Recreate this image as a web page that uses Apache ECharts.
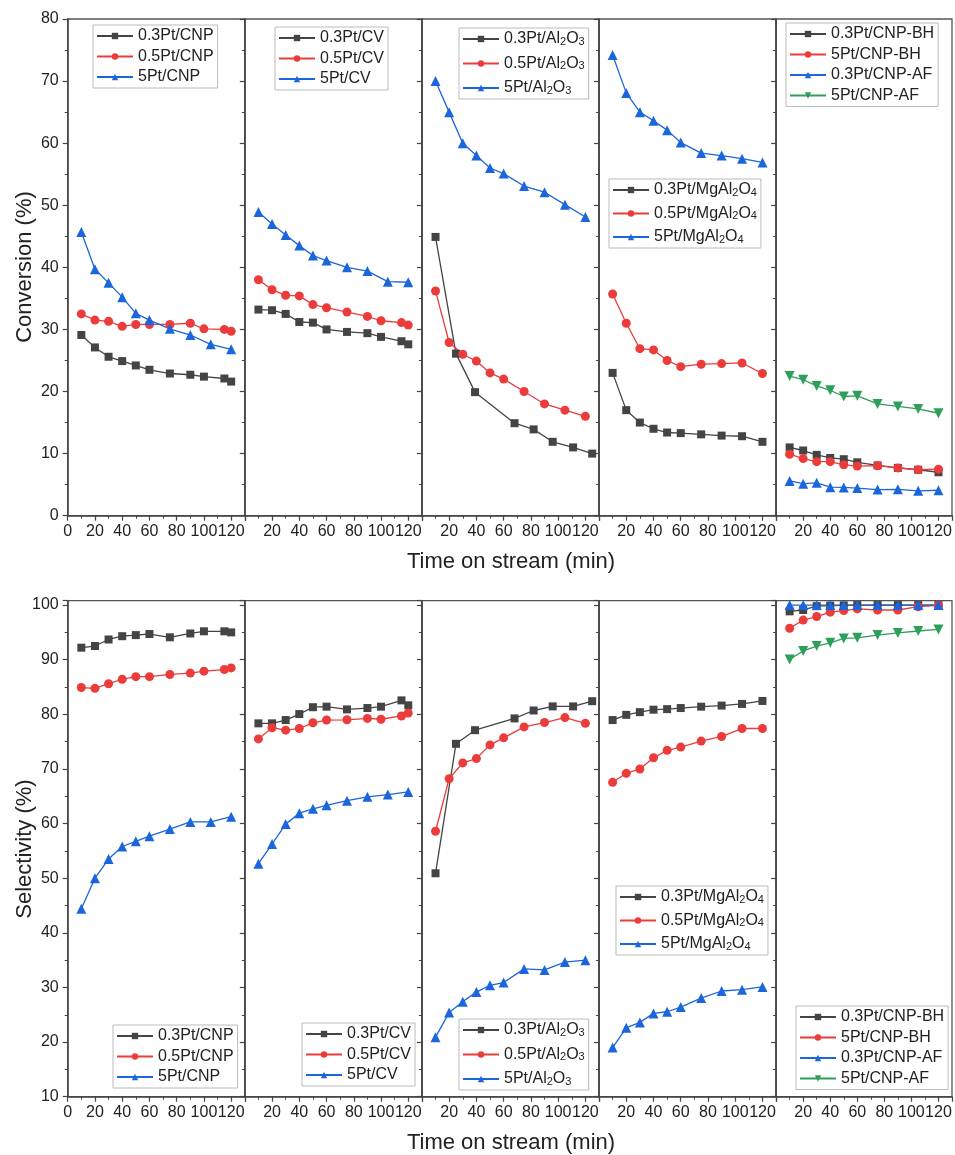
<!DOCTYPE html>
<html>
<head>
<meta charset="utf-8">
<script src="https://cdn.jsdelivr.net/npm/echarts@6/dist/echarts.min.js"></script>
<style>
  html, body { margin: 0; padding: 0; background: #fff; }
  #container { width: 955px; height: 1155px; }
</style>
</head>
<body>
<div id="container"></div>
<script>
// time on stream (min)
var tMain = [10, 20, 30, 40, 50, 60, 75, 90, 100, 115, 120];
var tStd = [10, 20, 30, 40, 50, 60, 75, 90, 105, 120];
var tAlBlack = [10, 25, 39, 68, 82, 96, 111, 125];

// conversion (%)
var convCNP03 = [29.1, 27.1, 25.6, 24.9, 24.2, 23.5, 22.9, 22.7, 22.4, 22.1, 21.6];
var convCNP05 = [32.5, 31.5, 31.3, 30.5, 30.8, 30.8, 30.8, 31.0, 30.1, 30.0, 29.7];
var convCNP5 = [45.7, 39.7, 37.5, 35.2, 32.6, 31.5, 30.1, 29.1, 27.6, 26.8];
var convCV03 = [33.2, 33.1, 32.5, 31.2, 31.1, 30.0, 29.6, 29.4, 28.8, 28.1, 27.6];
var convCV05 = [38.0, 36.4, 35.5, 35.4, 34.0, 33.5, 32.8, 32.1, 31.4, 31.1, 30.7];
var convCV5 = [48.9, 47.0, 45.2, 43.5, 41.9, 41.1, 40.0, 39.4, 37.7, 37.6];
var convAl03 = [44.9, 26.1, 19.9, 14.9, 13.9, 11.9, 11.0, 10.0];
var convAl05 = [36.2, 27.9, 26.0, 24.9, 23.0, 22.0, 20.0, 18.0, 17.0, 16.0];
var convAl5 = [70.0, 65.0, 60.0, 58.0, 56.0, 55.1, 53.1, 52.1, 50.1, 48.1];
var convMg03 = [23.0, 17.0, 15.0, 14.0, 13.4, 13.3, 13.1, 12.9, 12.8, 11.9];
var convMg05 = [35.7, 31.0, 26.9, 26.7, 25.0, 24.0, 24.4, 24.5, 24.6, 22.9];
var convMg5 = [74.2, 68.1, 65.0, 63.6, 62.1, 60.1, 58.4, 58.0, 57.5, 56.9];
var convBH03 = [11.0, 10.5, 9.8, 9.3, 9.1, 8.6, 8.1, 7.7, 7.4, 7.0];
var convBH5 = [9.9, 9.2, 8.7, 8.7, 8.2, 8.0, 8.05, 7.7, 7.4, 7.5];
var convAF03 = [5.6, 5.15, 5.3, 4.6, 4.55, 4.45, 4.2, 4.25, 4.0, 4.1];
var convAF5 = [22.5, 21.9, 20.9, 20.2, 19.2, 19.3, 18.0, 17.6, 17.2, 16.5];

// selectivity (%)
var selCNP03 = [92.2, 92.5, 93.7, 94.3, 94.5, 94.7, 94.1, 94.8, 95.2, 95.2, 95.0];
var selCNP05 = [84.9, 84.75, 85.6, 86.4, 86.9, 86.9, 87.3, 87.55, 87.9, 88.2, 88.5];
var selCNP5 = [44.4, 50.0, 53.5, 55.8, 56.75, 57.7, 59.0, 60.3, 60.3, 61.25];
var selCV03 = [78.35, 78.35, 78.95, 80.05, 81.3, 81.4, 80.9, 81.15, 81.4, 82.55, 81.65];
var selCV05 = [75.5, 77.55, 77.1, 77.4, 78.45, 78.95, 79.0, 79.25, 79.1, 79.7, 80.25];
var selCV5 = [52.65, 56.25, 59.9, 61.9, 62.7, 63.35, 64.2, 64.9, 65.3, 65.8];
var selAl03 = [50.9, 74.6, 77.1, 79.25, 80.7, 81.45, 81.45, 82.4];
var selAl05 = [58.6, 68.2, 71.1, 71.9, 74.4, 75.7, 77.7, 78.5, 79.4, 78.35];
var selAl5 = [20.9, 25.4, 27.4, 29.15, 30.4, 30.9, 33.4, 33.2, 34.65, 35.0];
var selMg03 = [78.95, 79.9, 80.4, 80.85, 80.95, 81.15, 81.4, 81.6, 81.9, 82.45];
var selMg05 = [67.55, 69.2, 70.0, 72.05, 73.4, 74.0, 75.1, 75.95, 77.4, 77.4];
var selMg5 = [19.0, 22.6, 23.6, 25.25, 25.55, 26.4, 28.05, 29.35, 29.6, 30.1];
var selBH03 = [98.85, 99.1, 99.8, 99.9, 99.95, 100, 100, 100, 100, 100];
var selBH5 = [95.75, 97.25, 97.9, 98.7, 99.0, 99.3, 99.1, 99.1, 99.7, 99.95];
var selAF03 = [100, 100, 100, 100, 100, 100, 100, 100, 100, 100];
var selAF5 = [90.05, 91.6, 92.5, 93.1, 93.9, 94.0, 94.5, 94.9, 95.25, 95.55];

// axis ticks
var xTicks = [0, 20, 40, 60, 80, 100, 120];
var convTicks = [0, 10, 20, 30, 40, 50, 60, 70, 80];
var selTicks = [10, 20, 30, 40, 50, 60, 70, 80, 90, 100];

var BLACK = '#444444', RED = '#ec3b3b', BLUE = '#1b66dc', GREEN = '#2d9f5a';
var FONT = 'Liberation Sans, Arial, sans-serif';

function pairs(t, v) {
  var out = [];
  for (var i = 0; i < v.length; i++) out.push([t[i], v[i]]);
  return out;
}

// panels: [series list], each series [name, times, values, kind]
var panels = [
  [['0.3Pt/CNP', tMain, convCNP03, 'k'], ['0.5Pt/CNP', tMain, convCNP05, 'r'], ['5Pt/CNP', tStd, convCNP5, 'b']],
  [['0.3Pt/CV', tMain, convCV03, 'k'], ['0.5Pt/CV', tMain, convCV05, 'r'], ['5Pt/CV', tStd, convCV5, 'b']],
  [['0.3Pt/Al2O3', tAlBlack, convAl03, 'k'], ['0.5Pt/Al2O3', tStd, convAl05, 'r'], ['5Pt/Al2O3', tStd, convAl5, 'b']],
  [['0.3Pt/MgAl2O4', tStd, convMg03, 'k'], ['0.5Pt/MgAl2O4', tStd, convMg05, 'r'], ['5Pt/MgAl2O4', tStd, convMg5, 'b']],
  [['0.3Pt/CNP-BH', tStd, convBH03, 'k'], ['5Pt/CNP-BH', tStd, convBH5, 'r'], ['0.3Pt/CNP-AF', tStd, convAF03, 'b'], ['5Pt/CNP-AF', tStd, convAF5, 'g']],
  [['0.3Pt/CNP', tMain, selCNP03, 'k'], ['0.5Pt/CNP', tMain, selCNP05, 'r'], ['5Pt/CNP', tStd, selCNP5, 'b']],
  [['0.3Pt/CV', tMain, selCV03, 'k'], ['0.5Pt/CV', tMain, selCV05, 'r'], ['5Pt/CV', tStd, selCV5, 'b']],
  [['0.3Pt/Al2O3', tAlBlack, selAl03, 'k'], ['0.5Pt/Al2O3', tStd, selAl05, 'r'], ['5Pt/Al2O3', tStd, selAl5, 'b']],
  [['0.3Pt/MgAl2O4', tStd, selMg03, 'k'], ['0.5Pt/MgAl2O4', tStd, selMg05, 'r'], ['5Pt/MgAl2O4', tStd, selMg5, 'b']],
  [['0.3Pt/CNP-BH', tStd, selBH03, 'k'], ['5Pt/CNP-BH', tStd, selBH5, 'r'], ['0.3Pt/CNP-AF', tStd, selAF03, 'b'], ['5Pt/CNP-AF', tStd, selAF5, 'g']]
];

// legend boxes (left, top, gap)
var legendPos = [
  [93, 25, 4.5], [275, 27, 4.5], [459, 28, 8.5], [609, 179, 7.5], [786, 23, 4.5],
  [113, 1025, 4.5], [302, 1023, 4.5], [459, 1019, 8.5], [616, 886, 7.5], [796, 1006, 4.5]
];

var styles = {
  k: { color: BLACK, symbol: 'rect', size: 8, rot: 0 },
  r: { color: RED, symbol: 'circle', size: 9, rot: 0 },
  b: { color: BLUE, symbol: 'triangle', size: 10, rot: 0 },
  g: { color: GREEN, symbol: 'triangle', size: 10, rot: 180 }
};

var panelLeft = 67.7, panelW = 177.1;
var grids = [], xAxes = [], yAxes = [], series = [], legends = [];

for (var p = 0; p < 10; p++) {
  var row = p < 5 ? 0 : 1;
  var col = p % 5;
  grids.push({
    left: panelLeft + col * panelW, width: panelW,
    top: row === 0 ? 19 : 600.7, height: row === 0 ? 496.7 : 496,
    show: true, borderColor: '#555', borderWidth: 1.3, backgroundColor: 'transparent'
  });
  (function (col) {
    xAxes.push({
      type: 'value', gridIndex: p, min: 0, max: 130, interval: 20,
      axisLine: { show: true, lineStyle: { color: '#444', width: 1.5 } },
      axisTick: { show: true, inside: false, length: 5, lineStyle: { color: '#444', width: 1.2 } },
      minorTick: { show: true, splitNumber: 2, length: 3, lineStyle: { color: '#444', width: 1 } },
      splitLine: { show: false },
      axisLabel: {
        fontSize: 16, color: '#222', fontFamily: FONT, margin: 8,
        formatter: function (v) {
          if (xTicks.indexOf(v) < 0) return '';
          if (v === 0 && col > 0) return '';
          return String(v);
        }
      }
    });
  })(col);
  var ticks = row === 0 ? convTicks : selTicks;
  (function (ticks, col) {
    yAxes.push({
      type: 'value', gridIndex: p,
      min: row === 0 ? 0 : 10, max: row === 0 ? 80 : 100.8, interval: 10,
      axisLine: { show: true, lineStyle: { color: '#444', width: 1.5 } },
      axisTick: { show: true, inside: false, length: 5, lineStyle: { color: '#444', width: 1.2 } },
      minorTick: { show: true, splitNumber: 2, length: 3, lineStyle: { color: '#444', width: 1 } },
      splitLine: { show: false },
      axisLabel: {
        show: col === 0, fontSize: 16, color: '#222', fontFamily: FONT, margin: 9,
        formatter: function (v) { return ticks.indexOf(v) < 0 ? '' : String(v); }
      }
    });
  })(ticks, col);

  var names = [];
  panels[p].forEach(function (s) {
    var st = styles[s[3]];
    names.push(s[0]);
    series.push({
      name: s[0], type: 'line', xAxisIndex: p, yAxisIndex: p,
      data: pairs(s[1], s[2]),
      symbol: st.symbol, symbolSize: st.size, symbolRotate: st.rot,
      showAllSymbol: true,
      lineStyle: { color: st.color, width: 1.3 },
      itemStyle: { color: st.color },
      emphasis: { disabled: true }
    });
  });
  var lp = legendPos[p];
  legends.push({
    data: names, orient: 'vertical', left: lp[0], top: lp[1],
    itemWidth: 36, itemHeight: 8, itemGap: lp[2],
    padding: [3, 4, 3, 3],
    borderColor: '#bbb', borderWidth: 1, borderRadius: 0,
    selectedMode: false,
    textStyle: {
      fontSize: 16, color: '#222', fontFamily: FONT, lineHeight: 16,
      rich: { s: { fontSize: 11, fontFamily: FONT, color: '#222', verticalAlign: 'bottom', lineHeight: 8 } }
    },
    formatter: function (name) {
      return name.replace(/Al2O(\d)/, 'Al{s|2}O{s|$1}');
    }
  });
}

var chart = echarts.init(document.getElementById('container'));
chart.setOption({
  animation: false,
  backgroundColor: '#fff',
  grid: grids,
  xAxis: xAxes,
  yAxis: yAxes,
  legend: legends,
  series: series,
  graphic: [
    { type: 'text', x: 25, y: 267, rotation: Math.PI / 2,
      style: { text: 'Conversion (%)', fontSize: 22, fontFamily: FONT, fill: '#222', align: 'center', verticalAlign: 'middle' } },
    { type: 'text', x: 25, y: 849, rotation: Math.PI / 2,
      style: { text: 'Selectivity (%)', fontSize: 22, fontFamily: FONT, fill: '#222', align: 'center', verticalAlign: 'middle' } },
    { type: 'text', x: 511, y: 562,
      style: { text: 'Time on stream (min)', fontSize: 22, fontFamily: FONT, fill: '#222', align: 'center', verticalAlign: 'middle' } },
    { type: 'text', x: 511, y: 1143,
      style: { text: 'Time on stream (min)', fontSize: 22, fontFamily: FONT, fill: '#222', align: 'center', verticalAlign: 'middle' } }
  ]
});
</script>
</body>
</html>
